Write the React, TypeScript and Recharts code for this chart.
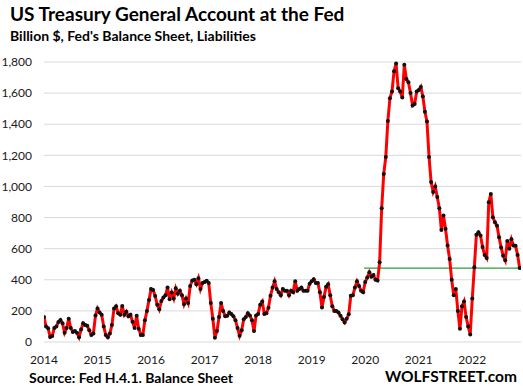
import { LineChart, Line, XAxis, YAxis, CartesianGrid, ReferenceLine } from 'recharts';

// biweekly readings, billion $, 26 per year (2022 ends mid-Nov)
const tga2014 = [161, 100, 88, 32, 38, 90, 100, 129, 142, 120, 60, 90, 150, 90, 65, 70, 60, 30, 80, 120, 110, 105, 75, 45, 55, 170];
const tga2015 = [215, 190, 175, 100, 45, 30, 55, 110, 215, 230, 185, 175, 232, 175, 195, 165, 175, 130, 90, 168, 85, 45, 45, 140, 200, 270];
const tga2016 = [340, 335, 295, 240, 210, 264, 286, 300, 350, 275, 318, 280, 345, 310, 329, 300, 243, 280, 250, 360, 395, 400, 372, 410, 340, 380];
const tga2017 = [385, 393, 380, 250, 150, 28, 70, 160, 250, 200, 165, 168, 190, 180, 165, 140, 90, 40, 75, 146, 160, 185, 170, 140, 70, 170];
const tga2018 = [180, 240, 260, 180, 185, 220, 297, 350, 390, 340, 320, 300, 340, 330, 330, 300, 330, 320, 390, 330, 340, 350, 330, 330, 330, 375];
const tga2019 = [390, 404, 380, 380, 320, 221, 290, 355, 372, 300, 230, 200, 200, 190, 168, 146, 125, 150, 178, 297, 300, 350, 390, 360, 330, 320];
const tga2020 = [385, 415, 448, 420, 430, 400, 395, 512, 860, 1080, 1190, 1420, 1567, 1610, 1740, 1790, 1632, 1610, 1572, 1783, 1690, 1670, 1600, 1520, 1530, 1610];
const tga2021 = [1620, 1640, 1578, 1480, 1417, 1190, 1029, 965, 1000, 932, 860, 720, 814, 728, 620, 534, 400, 300, 340, 200, 85, 230, 260, 160, 100, 49];
const tga2022 = [280, 480, 690, 705, 684, 610, 560, 540, 899, 952, 802, 770, 748, 673, 608, 555, 525, 650, 600, 660, 620, 619, 560, 475];

const years = [2014, 2015, 2016, 2017, 2018, 2019, 2020, 2021, 2022];
const yearValues = [tga2014, tga2015, tga2016, tga2017, tga2018, tga2019, tga2020, tga2021, tga2022];
const yTicks = [0, 200, 400, 600, 800, 1000, 1200, 1400, 1600, 1800];
const refLevel = 475;
const refStart = 2019.98;
const xEnd = 2022.91;

const data = years.flatMap((yr, i) =>
  yearValues[i].map((v, k) => ({ t: yr + k / 26, tga: v }))
);

const font = 'Lato, "Open Sans", sans-serif';

export default function App() {
  return (
    <div style={{ position: 'fixed', top: 0, left: 0, width: 523, height: 388, background: '#fff', fontFamily: font }}>
      <div style={{ position: 'absolute', left: 10, top: 3.5, fontSize: 19, lineHeight: '19px', fontWeight: 700, color: '#000', whiteSpace: 'nowrap' }}>
        US Treasury General Account at the Fed
      </div>
      <div style={{ position: 'absolute', left: 10, top: 29, fontSize: 14, lineHeight: '14px', fontWeight: 700, color: '#000', whiteSpace: 'nowrap' }}>
        Billion $, Fed's Balance Sheet, Liabilities
      </div>
      <LineChart width={523} height={388} data={data} margin={{ top: 62, right: 2, left: 0, bottom: 0 }}>
        <CartesianGrid vertical={false} stroke="#d9d9d9" strokeWidth={1} />
        <XAxis
          dataKey="t"
          type="number"
          domain={[2014, xEnd]}
          ticks={years}
          allowDataOverflow
          axisLine={false}
          tickLine={false}
          tickSize={0}
          tickMargin={13}
          height={46}
          tick={{ fontSize: 12, fill: '#1a1a1a', fontFamily: font }}
        />
        <YAxis
          domain={[0, 1800]}
          ticks={yTicks}
          width={44}
          axisLine={false}
          tickLine={false}
          tickSize={0}
          tickMargin={12}
          tickFormatter={(v: number) => v.toLocaleString('en-US')}
          tick={{ fontSize: 12, fill: '#1a1a1a', fontFamily: font }}
        />
        <ReferenceLine
          segment={[{ x: refStart, y: refLevel }, { x: xEnd, y: refLevel }]}
          stroke="#2e9e3e"
          strokeWidth={1.3}
          ifOverflow="visible"
        />
        <Line
          type="linear"
          dataKey="tga"
          stroke="#ff0000"
          strokeWidth={3}
          dot={{ r: 2, fill: '#111', stroke: 'none' }}
          isAnimationActive={false}
        />
      </LineChart>
      <div style={{ position: 'absolute', left: 29, top: 370.5, fontSize: 14, lineHeight: '14px', fontWeight: 700, color: '#000', whiteSpace: 'nowrap' }}>
        Source: Fed H.4.1. Balance Sheet
      </div>
      <div style={{ position: 'absolute', right: 6, top: 368.5, fontSize: 15.5, lineHeight: '15.5px', fontWeight: 700, color: '#000', whiteSpace: 'nowrap' }}>
        WOLFSTREET.com
      </div>
    </div>
  );
}
